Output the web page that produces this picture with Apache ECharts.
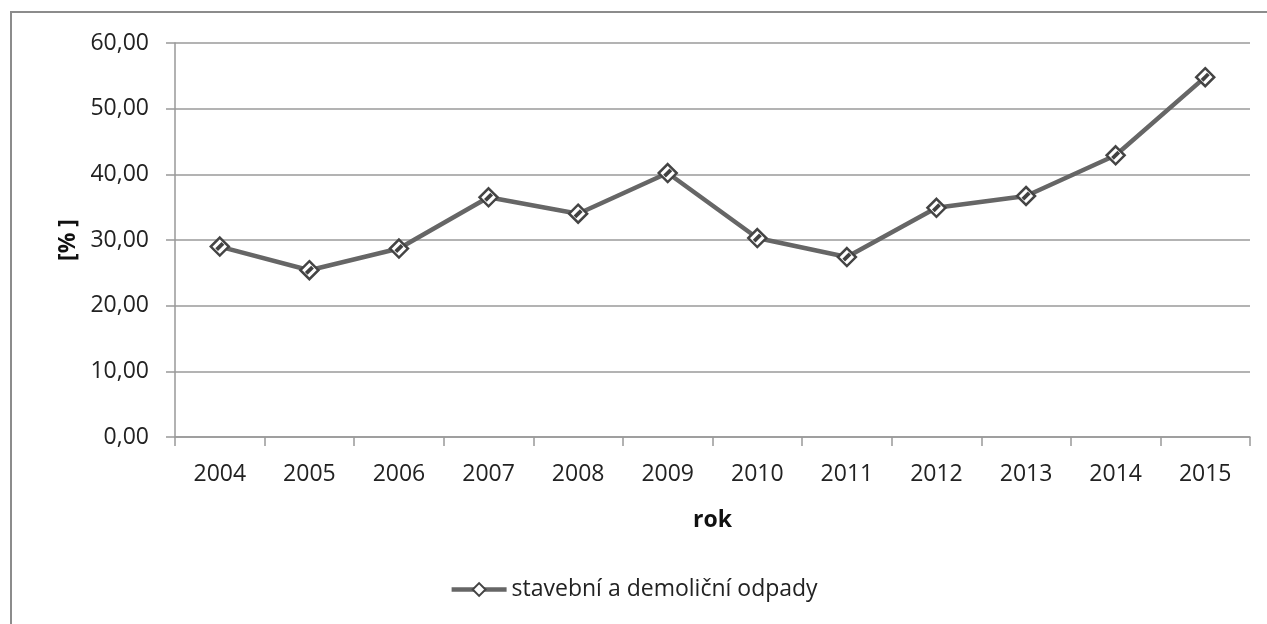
<!DOCTYPE html>
<html>
<head>
<meta charset="utf-8">
<script src="https://cdn.jsdelivr.net/npm/echarts@6/dist/echarts.min.js"></script>
<style>html,body{margin:0;padding:0;background:#fff}#c{width:1267px;height:624px}</style>
</head>
<body>
<div id="c"></div>
<script>
const years = ['2004','2005','2006','2007','2008','2009','2010','2011','2012','2013','2014','2015'];
const values = [29.0, 25.4, 28.7, 36.5, 34.0, 40.2, 30.3, 27.4, 34.9, 36.7, 42.9, 54.8];
const seriesName = 'stavební a demoliční odpady';
const yTicks = { min: 0, max: 60, interval: 10 };

const font = 'Open Sans';
const chart = echarts.init(document.getElementById('c'));
chart.setOption({
  animation: false,
  backgroundColor: '#fff',
  textStyle: { fontFamily: font },
  graphic: [{
    type: 'rect', shape: { x: 11, y: 12, width: 1400, height: 800 },
    style: { fill: 'none', stroke: '#8c8c8c', lineWidth: 2 }, silent: true, z: -1
  }],
  grid: { left: 175, top: 43, right: 17, bottom: 187, containLabel: false },
  legend: {
    bottom: 18, left: 'center',
    itemWidth: 55, itemHeight: 16, itemGap: 10,
    textStyle: { fontFamily: font, fontSize: 23, color: '#222' },
    lineStyle: { width: 4.5, color: '#666' },
    itemStyle: { color: '#fff', borderColor: '#444', borderWidth: 2 },
    data: [seriesName]
  },
  xAxis: {
    type: 'category', data: years, boundaryGap: true,
    name: 'rok', nameLocation: 'middle', nameGap: 72,
    nameTextStyle: { fontFamily: font, fontSize: 23, fontWeight: 'bold', color: '#111' },
    axisLine: { lineStyle: { color: '#999', width: 1.5 } },
    axisTick: { show: true, length: 9, alignWithLabel: false, lineStyle: { color: '#999', width: 1.5 } },
    axisLabel: { fontFamily: font, fontSize: 23, color: '#222', margin: 26 },
    splitLine: { show: false }
  },
  yAxis: {
    type: 'value', min: yTicks.min, max: yTicks.max, interval: yTicks.interval,
    name: '[% ]', nameLocation: 'middle', nameGap: 95, nameRotate: 90,
    nameTextStyle: { fontFamily: font, fontSize: 23, fontWeight: 'bold', color: '#111' },
    axisLine: { show: true, lineStyle: { color: '#999', width: 1.5 } },
    axisTick: { show: true, length: 9, lineStyle: { color: '#999', width: 1.5 } },
    axisLabel: { fontFamily: font, fontSize: 23, color: '#222', margin: 26,
      formatter: v => v.toFixed(2).replace('.', ',') },
    splitLine: { show: true, lineStyle: { color: '#9a9a9a', width: 1.5 } }
  },
  series: [{
    name: seriesName, type: 'line', data: values,
    lineStyle: { color: '#666', width: 4.5 },
    symbol: 'diamond', symbolSize: 18,
    itemStyle: { color: '#fff', borderColor: '#444', borderWidth: 2.5 },
    z: 3
  }, {
    name: 'stripe', type: 'scatter', data: values,
    symbol: 'path://M0,7 L7,0 L10,3 L3,10 Z',
    symbolSize: 9,
    itemStyle: { color: '#111' },
    silent: true, z: 4
  }]
});
</script>
</body>
</html>
